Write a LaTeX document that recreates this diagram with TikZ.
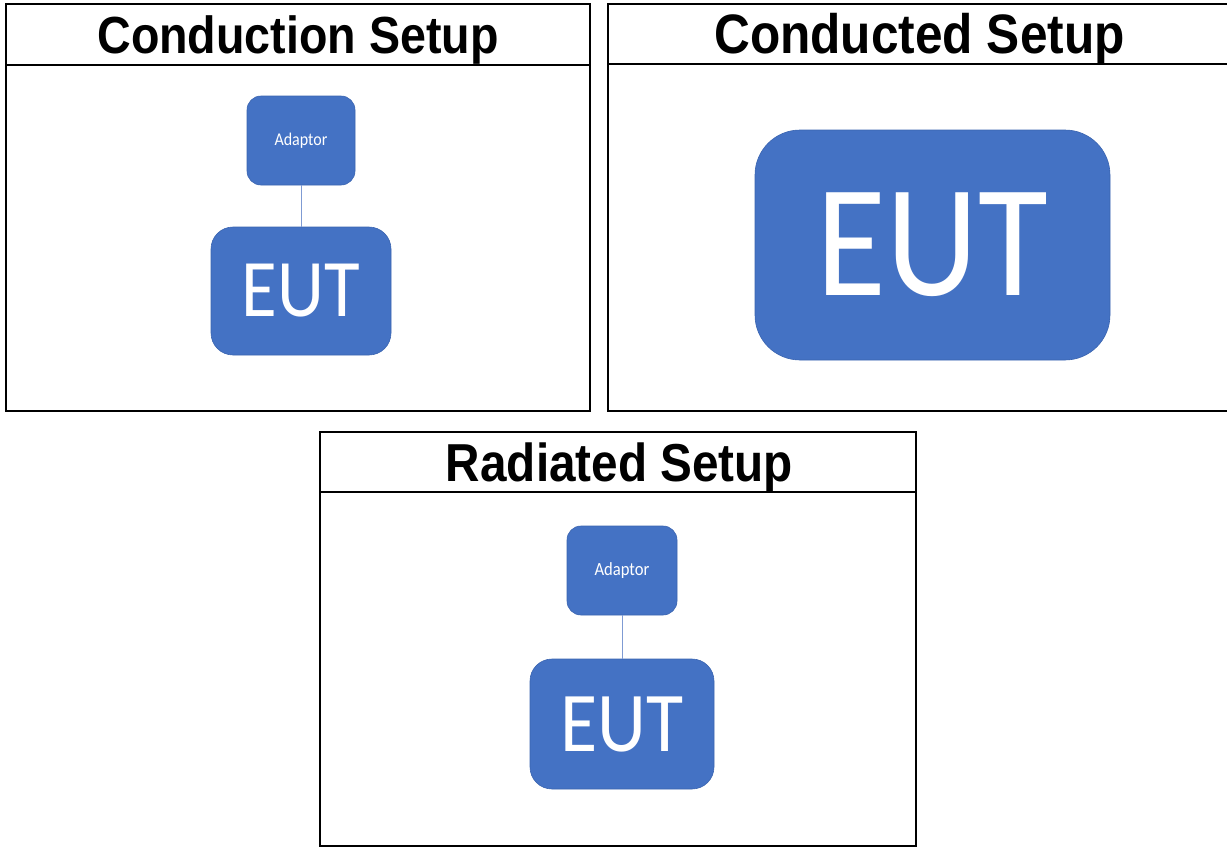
\documentclass[tikz,border=0pt]{standalone}
\usepackage{fontspec}
\setmainfont{Liberation Sans}
\newfontfamily\calib{Carlito}
\definecolor{boxblue}{HTML}{4472C4}
\definecolor{boxedge}{HTML}{3A64B0}
\definecolor{wireblue}{HTML}{7F9BD3}
\tikzset{
  panel/.style={draw=black, line width=2pt},
  bluebox/.style={draw=boxedge, line width=0.6pt, fill=boxblue, text=white, inner sep=0pt, font=\calib},
  wire/.style={draw=wireblue, line width=1pt},
  titletext/.style={font=\bfseries, inner sep=0pt}
}
\newcommand{\vst}[1]{\scalebox{1}[1.12]{#1}}
\begin{document}
\begin{tikzpicture}[x=1pt,y=-1pt]
\useasboundingbox (0,0) rectangle (1227,847);
% panels
\draw[panel] (6,4) rectangle (590,411);
\draw[panel] (6,65) -- (590,65);
\draw[panel] (608,4) rectangle (1232,411);
\draw[panel] (608,64) -- (1232,64);
\draw[panel] (320,432) rectangle (916,846);
\draw[panel] (320,492) -- (916,492);
% titles
\node[titletext] (t1) at (298,40.5) {\vst{\fontsize{46.6}{50}\selectfont Conduction Setup}};
\node[titletext] (t2) at (919.5,39) {\vst{\fontsize{49.6}{52}\selectfont Conducted Setup}};
\node[titletext] (t3) at (619.5,468) {\vst{\fontsize{47.7}{50}\selectfont Radiated Setup}};
% panel 1
\node[bluebox, rounded corners=14pt, minimum width=108, minimum height=89] (ad1) at (301,140.5) {\vst{\fontsize{16}{18}\selectfont Adaptor}};
\node[bluebox, rounded corners=22pt, minimum width=180, minimum height=128] (eut1) at (301,291) {\vst{\fontsize{73}{76}\selectfont EUT}};
\draw[wire] (ad1.south) -- (eut1.north);
% panel 2
\node[bluebox, rounded corners=45pt, minimum width=355, minimum height=230] (eut2) at (932.5,245) {\vst{\fontsize{143}{146}\selectfont EUT}};
% panel 3
\node[bluebox, rounded corners=14pt, minimum width=110, minimum height=89] (ad3) at (622,570.5) {\vst{\fontsize{16.6}{18}\selectfont Adaptor}};
\node[bluebox, rounded corners=22pt, minimum width=184, minimum height=130] (eut3) at (622,724) {\vst{\fontsize{76}{78}\selectfont EUT}};
\draw[wire] (ad3.south) -- (eut3.north);
\end{tikzpicture}
\end{document}
